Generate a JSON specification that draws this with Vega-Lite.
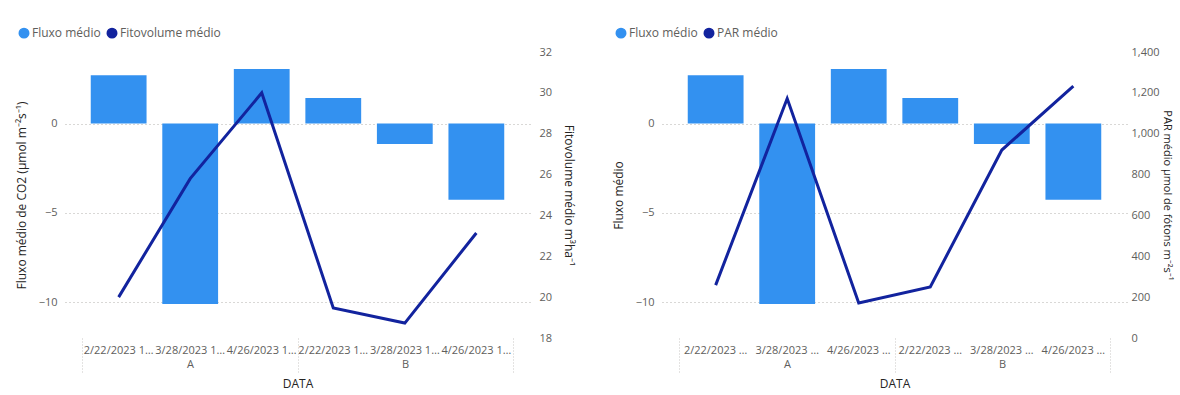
{
  "$schema": "https://vega.github.io/schema/vega-lite/v6.json",
  "padding": {"left": 15, "top": 27, "right": 4, "bottom": 2},
  "background": "white",
  "datasets": {
    "d": [
      {"grupo": "A", "data": "2/22/2023 12:00:00 AM", "key": "A|2/22/2023 12:00:00 AM", "fluxo": 2.7, "fito": 20.0, "par": 259},
      {"grupo": "A", "data": "3/28/2023 12:00:00 AM", "key": "A|3/28/2023 12:00:00 AM", "fluxo": -10.1, "fito": 25.8, "par": 1172},
      {"grupo": "A", "data": "4/26/2023 12:00:00 AM", "key": "A|4/26/2023 12:00:00 AM", "fluxo": 3.05, "fito": 30.0, "par": 171},
      {"grupo": "B", "data": "2/22/2023 12:00:00 AM", "key": "B|2/22/2023 12:00:00 AM", "fluxo": 1.42, "fito": 19.47, "par": 250},
      {"grupo": "B", "data": "3/28/2023 12:00:00 AM", "key": "B|3/28/2023 12:00:00 AM", "fluxo": -1.15, "fito": 18.73, "par": 920},
      {"grupo": "B", "data": "4/26/2023 12:00:00 AM", "key": "B|4/26/2023 12:00:00 AM", "fluxo": -4.27, "fito": 23.14, "par": 1233}
    ]
  },
  "data": {"name": "d"},
  "spacing": 37,
  "hconcat": [
    {
      "width": 465,
      "height": 286,
      "layer": [
        {
          "layer": [
            {
              "mark": {"type": "bar"},
              "encoding": {
                "x": {"field": "key", "type": "nominal", "sort": null,
                  "scale": {"type": "band", "paddingInner": 0.22, "paddingOuter": 0.36},
                  "axis": {"title": null, "labelExpr": "split(datum.label, '|')[1]", "labelLimit": 71, "labelAngle": 0, "ticks": false, "domain": false, "labelPadding": 6, "grid": false}},
                "y": {"field": "fluxo", "type": "quantitative",
                  "scale": {"domain": [-12, 4], "nice": false, "zero": false},
                  "axis": {"values": [-10, -5, 0], "title": "Fluxo médio de CO2  (µmol m⁻²s⁻¹)", "grid": true, "gridDash": [1, 3], "gridColor": "#b3b0ad", "ticks": false, "domain": false, "labelPadding": 8, "titlePadding": 10}},
                "color": {"datum": "Fluxo médio", "type": "nominal",
                  "scale": {"domain": ["Fluxo médio", "Fitovolume médio"], "range": ["#3391f0", "#12239e"]},
                  "legend": {"orient": "none", "legendX": -47, "legendY": -25, "direction": "horizontal", "title": null, "symbolType": "circle", "symbolSize": 90, "labelFontSize": 12, "labelColor": "#605e5c", "columnPadding": 3, "labelOffset": 2}}
              }
            },
            {
              "mark": {"type": "line", "strokeWidth": 3},
              "encoding": {
                "x": {"field": "key", "type": "nominal", "sort": null, "scale": {"type": "band", "paddingInner": 0.22, "paddingOuter": 0.36}},
                "y": {"field": "fito", "type": "quantitative",
                  "scale": {"domain": [18, 32], "nice": false, "zero": false},
                  "axis": {"orient": "right", "values": [18, 20, 22, 24, 26, 28, 30, 32], "title": "Fitovolume médio m³ha⁻¹", "grid": false, "ticks": false, "domain": false, "labelPadding": 9, "titlePadding": 10}},
                "color": {"datum": "Fitovolume médio", "type": "nominal"}
              }
            }
          ],
          "resolve": {"scale": {"y": "independent"}}
        },
        {
          "mark": {"type": "rule", "opacity": 0},
          "encoding": {
            "x": {"field": "grupo", "type": "nominal",
              "scale": {"type": "band", "paddingInner": 0, "paddingOuter": 0.08},
              "axis": {"orient": "bottom", "title": "DATA", "tickBand": "extent", "tickSize": 36, "tickDash": [1, 2], "tickColor": "#c8c6c4", "domain": false, "labelPadding": -16, "titlePadding": 4, "labelAngle": 0, "grid": false}}
          }
        }
      ],
      "resolve": {"scale": {"x": "independent"}}
    },
    {
      "width": 465,
      "height": 286,
      "layer": [
        {
          "layer": [
            {
              "mark": {"type": "bar"},
              "encoding": {
                "x": {"field": "key", "type": "nominal", "sort": null,
                  "scale": {"type": "band", "paddingInner": 0.22, "paddingOuter": 0.36},
                  "axis": {"title": null, "labelExpr": "split(datum.label, '|')[1]", "labelLimit": 64, "labelAngle": 0, "ticks": false, "domain": false, "labelPadding": 6, "grid": false}},
                "y": {"field": "fluxo", "type": "quantitative",
                  "scale": {"domain": [-12, 4], "nice": false, "zero": false},
                  "axis": {"values": [-10, -5, 0], "title": "Fluxo médio", "grid": true, "gridDash": [1, 3], "gridColor": "#b3b0ad", "ticks": false, "domain": false, "labelPadding": 8, "titlePadding": 10}},
                "color": {"datum": "Fluxo médio", "type": "nominal",
                  "scale": {"domain": ["Fluxo médio", "PAR médio"], "range": ["#3391f0", "#12239e"]},
                  "legend": {"orient": "none", "legendX": -47, "legendY": -25, "direction": "horizontal", "title": null, "symbolType": "circle", "symbolSize": 90, "labelFontSize": 12, "labelColor": "#605e5c", "columnPadding": 3, "labelOffset": 2}}
              }
            },
            {
              "mark": {"type": "line", "strokeWidth": 3},
              "encoding": {
                "x": {"field": "key", "type": "nominal", "sort": null, "scale": {"type": "band", "paddingInner": 0.22, "paddingOuter": 0.36}},
                "y": {"field": "par", "type": "quantitative",
                  "scale": {"domain": [0, 1400], "nice": false},
                  "axis": {"orient": "right", "values": [0, 200, 400, 600, 800, 1000, 1200, 1400], "format": ",d", "title": "PAR médio µmol de fótons m⁻²s⁻¹", "titleFontSize": 11, "grid": false, "ticks": false, "domain": false, "labelPadding": 4, "titlePadding": 2}},
                "color": {"datum": "PAR médio", "type": "nominal"}
              }
            }
          ],
          "resolve": {"scale": {"y": "independent"}}
        },
        {
          "mark": {"type": "rule", "opacity": 0},
          "encoding": {
            "x": {"field": "grupo", "type": "nominal",
              "scale": {"type": "band", "paddingInner": 0, "paddingOuter": 0.08},
              "axis": {"orient": "bottom", "title": "DATA", "tickBand": "extent", "tickSize": 36, "tickDash": [1, 2], "tickColor": "#c8c6c4", "domain": false, "labelPadding": -16, "titlePadding": 4, "labelAngle": 0, "grid": false}}
          }
        }
      ],
      "resolve": {"scale": {"x": "independent"}}
    }
  ],
  "resolve": {"scale": {"color": "independent", "x": "independent", "y": "independent"}},
  "config": {
    "font": "Open Sans",
    "view": {"stroke": null},
    "axis": {"labelColor": "#605e5c", "labelFontSize": 11, "titleColor": "#252423", "titleFontSize": 12, "titleFontWeight": "normal", "labelFont": "Open Sans", "titleFont": "Open Sans"},
    "legend": {"labelFont": "Open Sans"}
  }
}
